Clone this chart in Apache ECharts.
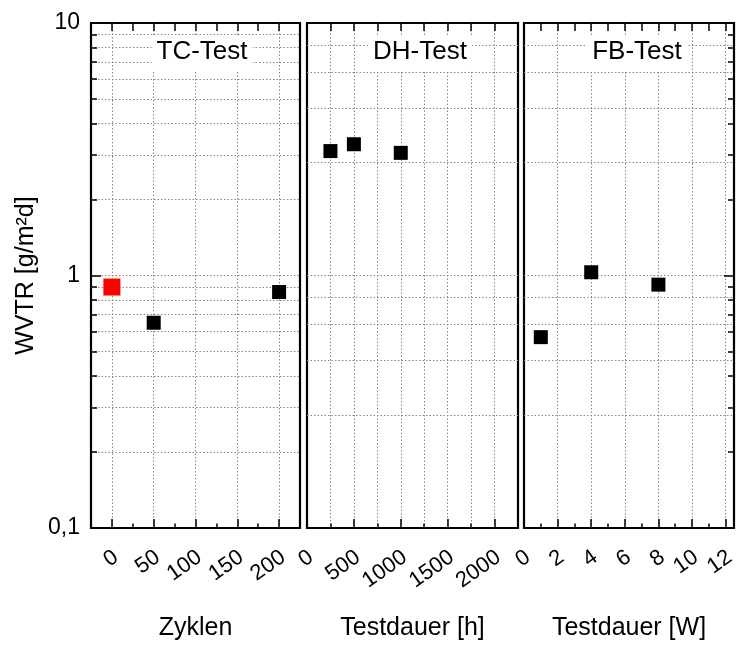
<!DOCTYPE html>
<html>
<head>
<meta charset="utf-8">
<script src="https://cdn.jsdelivr.net/npm/echarts@6/dist/echarts.min.js"></script>
<style>
  html, body { margin: 0; padding: 0; background: #fff; }
  #chart { width: 740px; height: 646px; }
</style>
</head>
<body>
<div id="chart"></div>
<script>
// WVTR measurements after three stress tests
const tcRefCycles = [0];
const tcRefWvtr = [0.90];
const tcCycles = [50, 200];
const tcWvtr = [0.65, 0.86];

const dhHours = [250, 500, 1000];
const dhWvtr = [3.11, 3.31, 3.06];

const fbWeeks = [1, 4, 8];
const fbWvtr = [0.57, 1.03, 0.92];

// tick positions and labels
const tcLabels = [0, 50, 100, 150, 200];
const tcMinor = [25, 75, 125, 175];
const tcTop = [0, 25, 50, 75, 100, 125, 150, 175, 200];
const dhLabels = [0, 500, 1000, 1500, 2000];
const dhMinor = [250, 750, 1250, 1750];
const dhTop = [250, 500, 750, 1000, 1250, 1500, 1750, 2000];
const fbLabels = [0, 2, 4, 6, 8, 10, 12];
const fbMinor = [1, 3, 5, 7, 9, 11];
const fbTop = [1, 2, 3, 4, 5, 6, 7, 8, 9, 10, 11, 12];
const yTicks = [0.1, 1, 10];

const panelTitles = ['TC-Test', 'DH-Test', 'FB-Test'];
const axisNames = ['Zyklen', 'Testdauer [h]', 'Testdauer [W]'];

const FONT = 'Liberation Sans, Arial, sans-serif';
const dotted = { color: '#868686', width: 1, type: [1.5, 2] };
const black = { color: '#000', width: 1.5 };

const grids = [
  { left: 91, top: 23, width: 209, height: 505 },
  { left: 307, top: 23, width: 211, height: 505 },
  { left: 524, top: 23, width: 210, height: 505 }
].map(g => Object.assign(g, { show: true, borderColor: '#000', borderWidth: 2.2, backgroundColor: 'transparent' }));

const panels = [
  { min: -25, max: 225, major: tcLabels, minor: tcMinor, top: tcTop, minorGrid: false, skipFirst: false },
  { min: 0, max: 2250, major: dhLabels, minor: dhMinor, top: dhTop, minorGrid: true, skipFirst: true },
  { min: 0, max: 12.5, major: fbLabels, minor: fbMinor, top: fbTop, minorGrid: false, skipFirst: true }
];

const noLine = { show: false, onZero: false };

const xAxes = [];
panels.forEach((p, i) => {
  // bottom axis: major ticks, labels, name
  xAxes.push({
    type: 'value', gridIndex: i, position: 'bottom', min: p.min, max: p.max,
    name: axisNames[i], nameLocation: 'middle', nameGap: 88,
    nameTextStyle: { fontFamily: FONT, fontSize: 25, color: '#000' },
    axisLine: noLine,
    axisTick: { show: true, inside: true, length: 9, lineStyle: black, customValues: p.major },
    axisLabel: {
      show: true, customValues: p.major, rotate: 35, margin: 30, padding: [0, -5, 0, 0],
      fontFamily: FONT, fontSize: 22, color: '#000',
      formatter: v => String(v)
    },
    splitLine: { show: true, showMinLine: !p.skipFirst, lineStyle: dotted }
  });
  // bottom axis: minor ticks
  xAxes.push({
    type: 'value', gridIndex: i, position: 'bottom', min: p.min, max: p.max,
    axisLine: noLine,
    axisTick: { show: true, inside: true, length: 4.5, lineStyle: black, customValues: p.minor },
    axisLabel: { show: false },
    splitLine: { show: p.minorGrid, lineStyle: dotted }
  });
  // top axis: ticks only
  xAxes.push({
    type: 'value', gridIndex: i, position: 'top', min: p.min, max: p.max,
    axisLine: noLine,
    axisTick: { show: true, inside: true, length: 8, lineStyle: black, customValues: p.top },
    axisLabel: { show: false },
    splitLine: { show: false }
  });
});

function logAxis(gridIndex, position, opts) {
  return Object.assign({
    type: 'log', logBase: 10, gridIndex: gridIndex, position: position,
    min: yTicks[0], max: yTicks[yTicks.length - 1],
    axisLine: noLine,
    axisTick: { show: false },
    minorTick: { show: false },
    axisLabel: { show: false },
    splitLine: { show: false },
    minorSplitLine: { show: false }
  }, opts);
}

const gridY = {
  splitLine: { show: true, showMinLine: false, showMaxLine: false, lineStyle: dotted },
  minorSplitLine: { show: true, lineStyle: dotted }
};
const tickY = {
  axisTick: { show: true, inside: true, length: 10, lineStyle: black },
  minorTick: { show: true, splitNumber: 9, length: 6, lineStyle: black }
};

const yAxes = [
  logAxis(0, 'left', Object.assign({}, gridY, tickY, {
    name: 'WVTR [g/m²d]', nameLocation: 'middle', nameGap: 52, nameRotate: 90,
    nameTextStyle: { fontFamily: FONT, fontSize: 25, color: '#000' },
    axisLabel: {
      show: true, margin: 11, fontFamily: FONT, fontSize: 23, color: '#000',
      formatter: v => String(v).replace('.', ',')
    }
  })),
  logAxis(1, 'left', gridY),
  logAxis(2, 'left', gridY),
  logAxis(2, 'right', tickY)
];

const zip = (xs, ys) => xs.map((x, k) => [x, ys[k]]);
const square = (data, xi, yi, color, size) => ({
  type: 'scatter', xAxisIndex: xi, yAxisIndex: yi, data: data,
  symbol: 'rect', symbolSize: size, itemStyle: { color: color, opacity: 1 },
  emphasis: { disabled: true }, z: 5
});

const titleCenters = [197, 415, 632];

const option = {
  animation: false,
  backgroundColor: '#fff',
  title: panelTitles.map((t, i) => ({
    text: t, left: titleCenters[i], top: 36, textAlign: 'center',
    backgroundColor: '#fff', padding: [3, 5, 6, 5],
    textStyle: { fontFamily: FONT, fontSize: 26, fontWeight: 'normal', color: '#000' }
  })),
  grid: grids,
  xAxis: xAxes,
  yAxis: yAxes,
  series: [
    square(zip(tcRefCycles, tcRefWvtr), 0, 0, '#ff0000', 17),
    square(zip(tcCycles, tcWvtr), 0, 0, '#000', 14),
    square(zip(dhHours, dhWvtr), 3, 1, '#000', 14),
    square(zip(fbWeeks, fbWvtr), 6, 2, '#000', 14)
  ]
};

const chart = echarts.init(document.getElementById('chart'), null, { renderer: 'canvas' });
chart.setOption(option);
</script>
</body>
</html>
